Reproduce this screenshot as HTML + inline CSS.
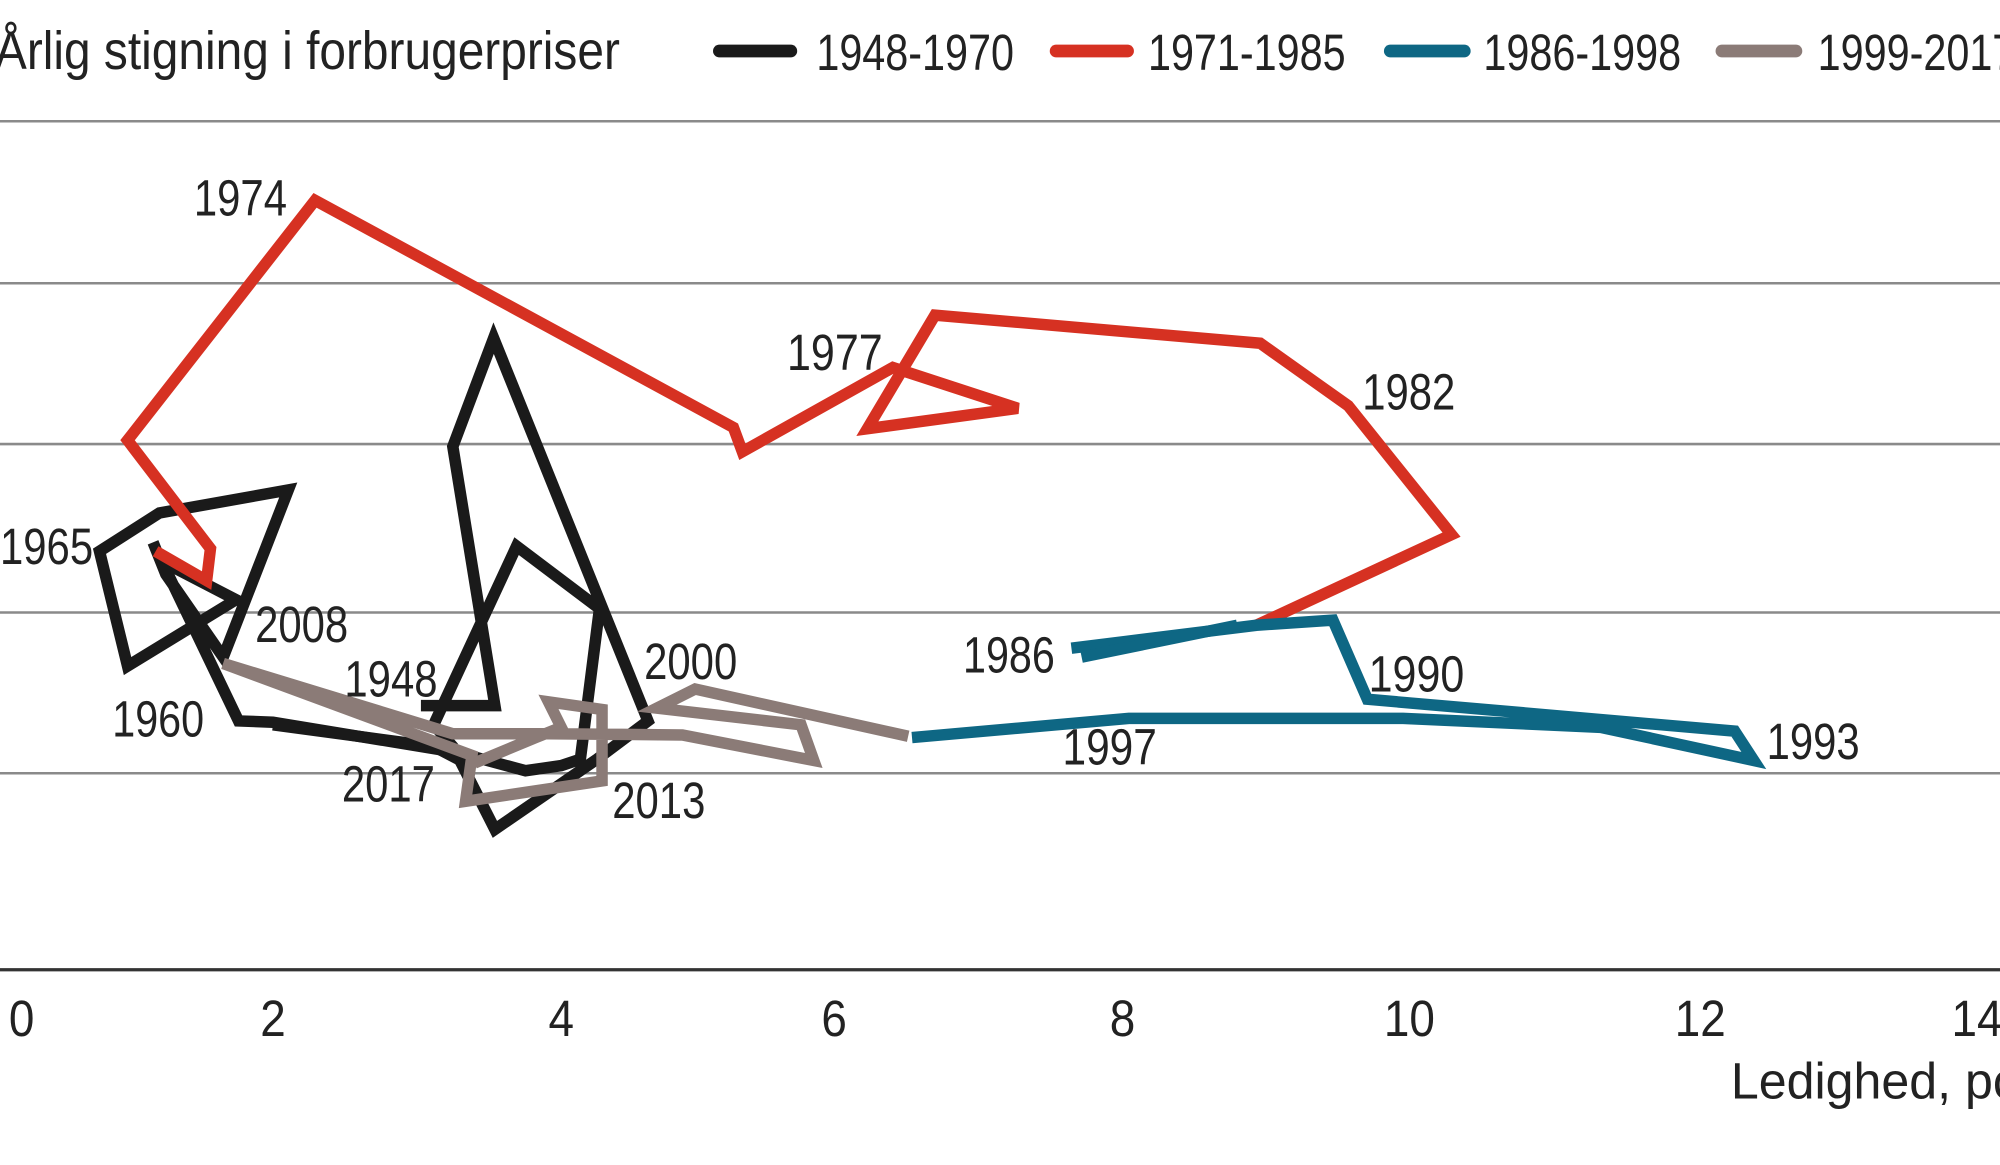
<!DOCTYPE html>
<html><head><meta charset="utf-8"><style>
html,body{margin:0;padding:0;background:#fff;overflow:hidden}
svg{display:block}
text{font-family:"Liberation Sans",sans-serif;fill:#222}
</style></head><body>
<svg width="2000" height="1165" viewBox="0 0 1568 913" preserveAspectRatio="none" xmlns="http://www.w3.org/2000/svg">
<g stroke="#8a8a8a" stroke-width="2">
<line x1="0" y1="95" x2="1568" y2="95"/>
<line x1="0" y1="222" x2="1568" y2="222"/>
<line x1="0" y1="348" x2="1568" y2="348"/>
<line x1="0" y1="480" x2="1568" y2="480"/>
<line x1="0" y1="606" x2="1568" y2="606"/>
</g>
<line x1="0" y1="760" x2="1568" y2="760" stroke="#333" stroke-width="2.5"/>
<g font-size="40" text-anchor="middle">
<text x="17" y="812" textLength="20" lengthAdjust="spacingAndGlyphs">0</text>
<text x="214" y="812" textLength="20" lengthAdjust="spacingAndGlyphs">2</text>
<text x="440" y="812" textLength="20" lengthAdjust="spacingAndGlyphs">4</text>
<text x="654" y="812" textLength="20" lengthAdjust="spacingAndGlyphs">6</text>
<text x="880" y="812" textLength="20" lengthAdjust="spacingAndGlyphs">8</text>
<text x="1105" y="812" textLength="40" lengthAdjust="spacingAndGlyphs">10</text>
<text x="1333" y="812" textLength="40" lengthAdjust="spacingAndGlyphs">12</text>
</g>
<text x="1530" y="812" font-size="40" textLength="40" lengthAdjust="spacingAndGlyphs">14</text>
<text x="1357" y="861" font-size="40" textLength="236" lengthAdjust="spacingAndGlyphs" fill="#444">Ledighed, pct</text>
<text x="-4" y="54" font-size="42" textLength="490" lengthAdjust="spacingAndGlyphs" fill="#444">Årlig stigning i forbrugerpriser</text>
<g stroke-width="10" stroke-linecap="round">
<line x1="564" y1="40" x2="620" y2="40" stroke="#1a1a1a"/>
<line x1="828" y1="40" x2="884" y2="40" stroke="#d63122"/>
<line x1="1090" y1="40" x2="1148" y2="40" stroke="#0e6784"/>
<line x1="1350" y1="40" x2="1408" y2="40" stroke="#8b7b77"/>
</g>
<g font-size="40">
<text x="640" y="55" textLength="155" lengthAdjust="spacingAndGlyphs">1948-1970</text>
<text x="900" y="55" textLength="155" lengthAdjust="spacingAndGlyphs">1971-1985</text>
<text x="1163" y="55" textLength="155" lengthAdjust="spacingAndGlyphs">1986-1998</text>
<text x="1425" y="55" textLength="155" lengthAdjust="spacingAndGlyphs">1999-2017</text>
</g>
<g fill="none" stroke-width="9" stroke-linejoin="miter" stroke-linecap="butt">
<polyline stroke="#1a1a1a" points="330,553 388,553 355,350 387,265 508,565 468,595 388,650 355,585 340,568 405,428 470,477 455,595 440,600 412,604 360,590 214,566 187,565 127,440 185,470 100,522 78,432 125,402 226,384 175,515 130,450 120,425"/>
<polyline stroke="#1a1a1a" points="214,568 340,585 365,598"/>
<polyline stroke="#d63122" points="122,432 162,455 165,430 100,345 247,157 575,335 582,354 700,288 798,320 680,336 733,247 988,269 1057,318 1138,419 985,490"/>
<polyline stroke="#0e6784" points="840,508 985,490 1045,486 1072,548 1360,573 1375,596 1255,570 1100,563 885,563 715,578"/>
<polyline stroke="#0e6784" points="848,515 970,490"/>
<polyline stroke="#8b7b77" points="712,577 545,540 515,555 628,568 638,596 535,576 430,575 355,575 175,520 370,592 365,628 472,612 472,556 430,550 440,570 420,578 372,598"/>
</g>
<g font-size="40">
<text x="152" y="169" textLength="73" lengthAdjust="spacingAndGlyphs">1974</text>
<text x="617" y="290" textLength="75" lengthAdjust="spacingAndGlyphs">1977</text>
<text x="1068" y="321" textLength="73" lengthAdjust="spacingAndGlyphs">1982</text>
<text x="0" y="442" textLength="73" lengthAdjust="spacingAndGlyphs">1965</text>
<text x="200" y="503" textLength="73" lengthAdjust="spacingAndGlyphs">2008</text>
<text x="270" y="546" textLength="73" lengthAdjust="spacingAndGlyphs">1948</text>
<text x="88" y="577" textLength="72" lengthAdjust="spacingAndGlyphs">1960</text>
<text x="268" y="628" textLength="73" lengthAdjust="spacingAndGlyphs">2017</text>
<text x="480" y="641" textLength="73" lengthAdjust="spacingAndGlyphs">2013</text>
<text x="505" y="532" textLength="73" lengthAdjust="spacingAndGlyphs">2000</text>
<text x="755" y="527" textLength="72" lengthAdjust="spacingAndGlyphs">1986</text>
<text x="1073" y="542" textLength="75" lengthAdjust="spacingAndGlyphs">1990</text>
<text x="833" y="599" textLength="74" lengthAdjust="spacingAndGlyphs">1997</text>
<text x="1385" y="595" textLength="73" lengthAdjust="spacingAndGlyphs">1993</text>
</g>
</svg>
</body></html>
